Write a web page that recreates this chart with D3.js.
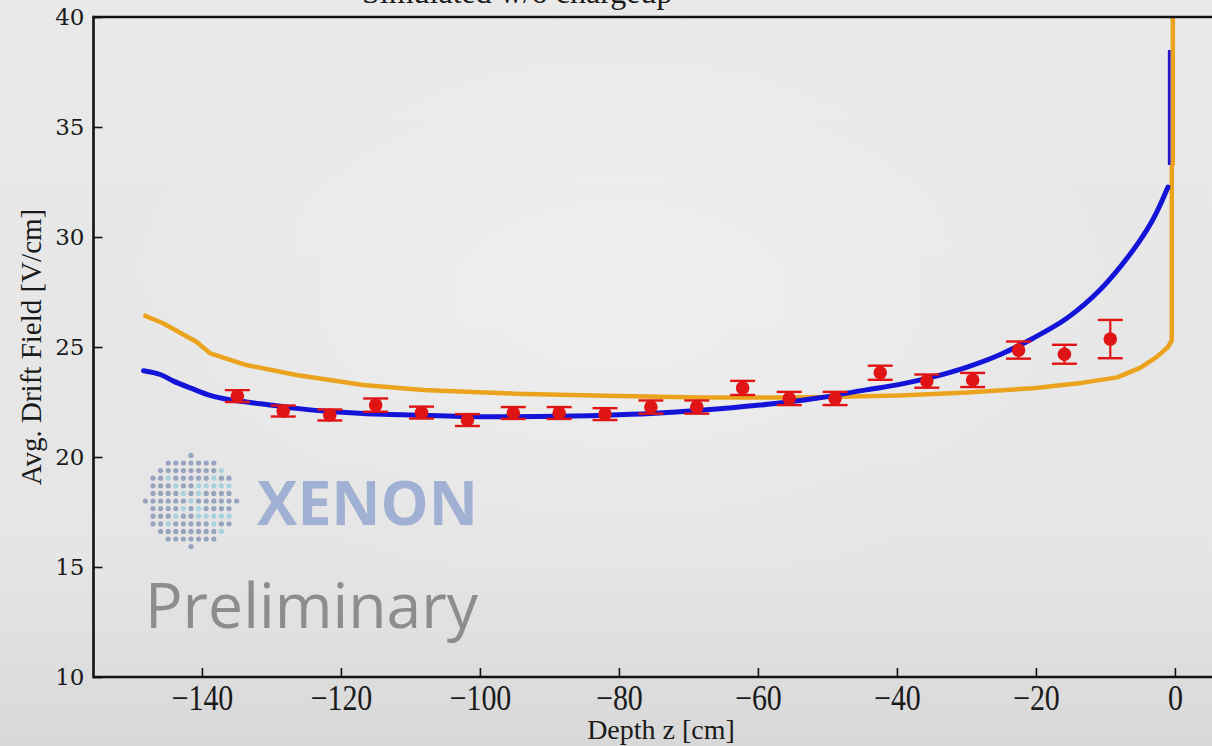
<!DOCTYPE html>
<html><head><meta charset="utf-8">
<script src="https://cdn.jsdelivr.net/npm/d3@7"></script>
<style>html,body{margin:0;padding:0;background:#e8e8e8;} svg{display:block}</style>
</head><body>
<svg id="c" width="1212" height="746"></svg>
<script>
// ---------- data ----------
const xTicks = [-140, -120, -100, -80, -60, -40, -20, 0];
const yTicks = [10, 15, 20, 25, 30, 35, 40];
const xLabel = "Depth z [cm]";
const yLabel = "Avg. Drift Field [V/cm]";
const legendText = "Simulated w/o chargeup";

// measured points
const depth    = [-134.9, -128.3, -121.6, -115.0, -108.4, -101.8, -95.2, -88.6, -82.0, -75.4, -68.8, -62.2, -55.5, -48.9, -42.4, -35.7, -29.1, -22.5, -15.9, -9.3];
const field    = [22.77, 22.09, 21.91, 22.36, 22.02, 21.68, 22.0, 22.0, 21.95, 22.27, 22.27, 23.14, 22.66, 22.66, 23.83, 23.45, 23.5, 24.86, 24.67, 25.36];
const fieldErr = [0.27, 0.25, 0.25, 0.3, 0.27, 0.27, 0.27, 0.27, 0.27, 0.3, 0.3, 0.32, 0.3, 0.3, 0.32, 0.3, 0.32, 0.39, 0.43, 0.87];

// simulated with charge-up (blue)
const blueZ = [-148.4, -146.0, -144.1, -141.5, -138.8, -136.0, -131.0, -126.4, -121.6, -116.8, -108.2, -101.9, -95.3, -88.6, -82.0, -75.4, -68.3, -59.7, -51.6, -44.4, -39.6, -34.8, -29.9, -25.2, -20.4, -15.5, -10.8, -6.0, -3.2, -1.0];
const blueV = [23.92, 23.75, 23.45, 23.12, 22.80, 22.60, 22.40, 22.21, 22.07, 21.98, 21.90, 21.84, 21.83, 21.85, 21.90, 21.98, 22.12, 22.36, 22.67, 23.05, 23.30, 23.64, 24.09, 24.65, 25.40, 26.32, 27.59, 29.41, 30.77, 32.27];
const blueWallZ = [-0.82, -0.82];
const blueWallV = [33.27, 38.5];

// simulated without charge-up (orange)
const orangeZ = [-148.4, -145.6, -140.8, -138.8, -133.6, -126.4, -116.8, -108.1, -95.0, -82.0, -68.3, -55.0, -46.8, -39.6, -29.9, -20.4, -13.2, -8.3, -5.0, -2.6, -1.0, -0.45, -0.45, -0.3, -0.3];
const orangeV = [26.45, 26.08, 25.24, 24.71, 24.18, 23.73, 23.27, 23.05, 22.88, 22.78, 22.70, 22.70, 22.75, 22.80, 22.93, 23.13, 23.38, 23.62, 24.05, 24.55, 25.00, 25.30, 33.20, 33.30, 40.0];

// ---------- layout ----------
const svg = d3.select("#c");
const W = 1212, H = 746;
const L = 93.5, T = 17, B = 677;
const x = d3.scaleLinear().domain([-155.6, 6]).range([L, L + 161.6 * 6.95]);
const y = d3.scaleLinear().domain([10, 40]).range([B, T]);

// background
const defs = svg.append("defs");
const bg = defs.append("linearGradient").attr("id", "bg").attr("x1", 0).attr("y1", 0).attr("x2", 0).attr("y2", 1);
bg.append("stop").attr("offset", "0%").attr("stop-color", "#e9e9e9");
bg.append("stop").attr("offset", "75%").attr("stop-color", "#e5e5e5");
bg.append("stop").attr("offset", "100%").attr("stop-color", "#d8d8d8");
const rg = defs.append("radialGradient").attr("id", "glow");
rg.append("stop").attr("offset", "0%").attr("stop-color", "#ffffff").attr("stop-opacity", 0.35);
rg.append("stop").attr("offset", "100%").attr("stop-color", "#ffffff").attr("stop-opacity", 0);
svg.append("rect").attr("width", W).attr("height", H).attr("fill", "url(#bg)");
svg.append("ellipse").attr("cx", 620).attr("cy", 300).attr("rx", 520).attr("ry", 300).attr("fill", "url(#glow)");

// ---------- watermark ----------
const wm = svg.append("g");
const cx0 = 191, cy0 = 501, R = 46, sp = 7.6;
const dots = [];
for (let i = -6; i <= 6; i++) for (let j = -6; j <= 6; j++) {
  const dx = i * sp, dy = j * sp;
  if (dx * dx + dy * dy <= R * R) dots.push({dx, dy, i, j});
}
wm.selectAll("circle.dot").data(dots).join("circle").attr("class", "dot")
  .attr("cx", d => cx0 + d.dx).attr("cy", d => cy0 + d.dy).attr("r", 2.6)
  .attr("fill", d => {
    const a = Math.abs(d.i), b = Math.abs(d.j);
    const cyan = (d.i >= -3 && Math.abs(a - b) <= 0) || (d.j === -2 && d.i > 0) || (d.j === 2 && d.i > 0);
    return cyan ? "#a8d2de" : "#97a4c0";
  });
wm.append("text").attr("x", 257).attr("y", 525).attr("textLength", 221).attr("lengthAdjust", "spacingAndGlyphs")
  .attr("font-family", "Open Sans").attr("font-weight", 700).attr("font-size", 61).attr("fill", "#a1b1d3").text("XENON");
wm.append("text").attr("x", 145).attr("y", 628).attr("textLength", 333).attr("lengthAdjust", "spacingAndGlyphs")
  .attr("font-family", "Open Sans").attr("font-size", 63).attr("fill", "#8d8d8d").text("Preliminary");

// ---------- curves ----------
const clip = defs.append("clipPath").attr("id", "pc");
clip.append("rect").attr("x", L).attr("y", T).attr("width", W - L).attr("height", B - T);
const plot = svg.append("g").attr("clip-path", "url(#pc)");

const line = d3.line().x(d => x(d[0])).y(d => y(d[1])).curve(d3.curveCatmullRom.alpha(0.5));
const lineLin = d3.line().x(d => x(d[0])).y(d => y(d[1]));

plot.append("path").datum(d3.zip(orangeZ, orangeV)).attr("d", lineLin)
  .attr("fill", "none").attr("stroke", "#eba21c").attr("stroke-width", 4.5).attr("stroke-linejoin", "round");
plot.append("path").datum(d3.zip(blueZ, blueV)).attr("d", line)
  .attr("fill", "none").attr("stroke", "#1414d8").attr("stroke-width", 5).attr("stroke-linecap", "round");
plot.append("path").datum(d3.zip(blueWallZ, blueWallV)).attr("d", lineLin)
  .attr("fill", "none").attr("stroke", "#2a16c8").attr("stroke-width", 2.8);

// data points with error bars
const pts = d3.zip(depth, field, fieldErr);
const red = "#e01414";
const eg = plot.append("g");
eg.selectAll("line.eb").data(pts).join("line").attr("class", "eb")
  .attr("x1", d => x(d[0])).attr("x2", d => x(d[0]))
  .attr("y1", d => y(d[1] - d[2])).attr("y2", d => y(d[1] + d[2]))
  .attr("stroke", red).attr("stroke-width", 2.2);
["top", "bot"].forEach(k => {
  eg.selectAll("line.cap" + k).data(pts).join("line").attr("class", "cap" + k)
    .attr("x1", d => x(d[0]) - 12.5).attr("x2", d => x(d[0]) + 12.5)
    .attr("y1", d => y(k === "top" ? d[1] + d[2] : d[1] - d[2]))
    .attr("y2", d => y(k === "top" ? d[1] + d[2] : d[1] - d[2]))
    .attr("stroke", red).attr("stroke-width", 2.4);
});
eg.selectAll("circle.pt").data(pts).join("circle").attr("class", "pt")
  .attr("cx", d => x(d[0])).attr("cy", d => y(d[1])).attr("r", 6.8).attr("fill", red);

// ---------- axes ----------
const xAxis = d3.axisBottom(x).tickValues(xTicks).tickSizeInner(-9).tickSizeOuter(0)
  .tickFormat(d => d < 0 ? "\u2212" + Math.abs(d) : String(d));
const gx = svg.append("g").attr("transform", `translate(0,${B})`).call(xAxis);
gx.select(".domain").remove();
gx.selectAll(".tick line").attr("stroke", "#111").attr("stroke-width", 1.6);
gx.selectAll(".tick text").attr("font-family", "Liberation Serif").attr("font-size", 30)
  .attr("fill", "#1a1a1a").attr("dy", null).attr("y", 0)
  .attr("transform", "translate(0,33) scale(1,1.2)");

const yAxis = d3.axisLeft(y).tickValues(yTicks).tickSizeInner(-9).tickSizeOuter(0).tickPadding(9);
const gy = svg.append("g").attr("transform", `translate(${L},0)`).call(yAxis);
gy.select(".domain").remove();
gy.selectAll(".tick line").attr("stroke", "#111").attr("stroke-width", 1.6);
gy.selectAll(".tick text").attr("font-family", "DejaVu Serif").attr("font-size", 23).attr("fill", "#1a1a1a");

// spines
const sp2 = svg.append("g").attr("stroke", "#111").attr("stroke-width", 2.6).attr("fill", "none");
sp2.append("line").attr("x1", L).attr("x2", W + 5).attr("y1", T).attr("y2", T);
sp2.append("line").attr("x1", L).attr("x2", W + 5).attr("y1", B).attr("y2", B);
sp2.append("line").attr("x1", L).attr("x2", L).attr("y1", T - 1.3).attr("y2", B + 1.3);

// labels
svg.append("text").attr("x", 661).attr("y", 739).attr("text-anchor", "middle")
  .attr("font-family", "Liberation Serif").attr("font-size", 28).attr("fill", "#1a1a1a").text(xLabel);
svg.append("text").attr("transform", "translate(41,347) rotate(-90)").attr("text-anchor", "middle")
  .attr("font-family", "Liberation Serif").attr("font-size", 29).attr("fill", "#1a1a1a").text(yLabel);
svg.append("text").attr("x", 362).attr("y", 3).attr("font-family", "Liberation Serif").attr("font-size", 32)
  .attr("fill", "#1a1a1a").text(legendText);
</script>
</body></html>
